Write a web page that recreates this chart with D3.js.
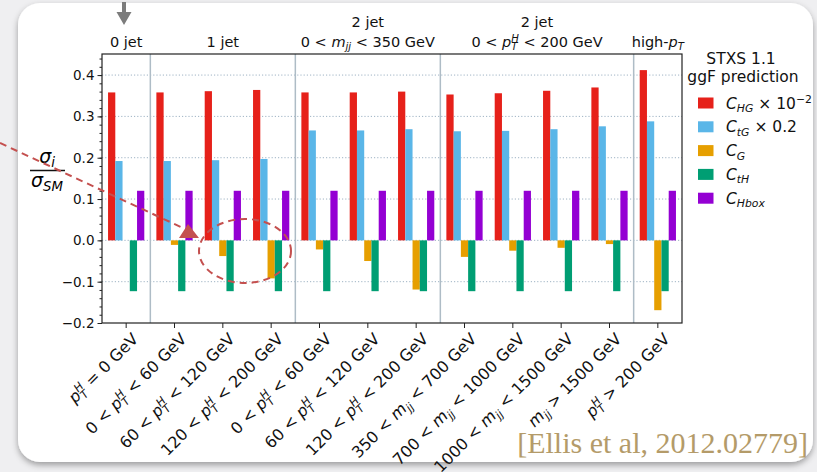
<!DOCTYPE html>
<html>
<head>
<meta charset="utf-8">
<script src="https://cdn.jsdelivr.net/npm/d3@7"></script>
<style>
  html, body { margin: 0; padding: 0; background: #efeff1; }
  svg { display: block; font-family: "DejaVu Sans", sans-serif; }
</style>
</head>
<body>
<div id="chart"></div>
<script>
// STXS 1.1 bins (x tick labels, $..$ = math)
const categories = [
  "$p_T^H$ = 0 GeV",
  "0 < $p_T^H$ < 60 GeV",
  "60 < $p_T^H$ < 120 GeV",
  "120 < $p_T^H$ < 200 GeV",
  "0 < $p_T^H$ < 60 GeV",
  "60 < $p_T^H$ < 120 GeV",
  "120 < $p_T^H$ < 200 GeV",
  "350 < $m_{jj}$ < 700 GeV",
  "700 < $m_{jj}$ < 1000 GeV",
  "1000 < $m_{jj}$ < 1500 GeV",
  "$m_{jj}$ > 1500 GeV",
  "$p_T^H$ > 200 GeV"
];

// jet-multiplicity groups on top
const groupNames = [["0 jet"], ["1 jet"], ["2 jet", "0 < $m_{jj}$ < 350 GeV"], ["2 jet", "0 < $p_T^H$ < 200 GeV"], ["high-$p_T$"]];
const groupFirst = [0, 1, 4, 7, 11];
const groupLast = [0, 3, 6, 10, 11];

const seriesNames = ["$C_{HG}$ × 10$^{−2}$", "$C_{tG}$ × 0.2", "$C_G$", "$C_{tH}$", "$C_{Hbox}$"];
const seriesColors = ["#e6211a", "#5ab6e8", "#e69f00", "#009e73", "#9400d3"];

const cHG   = [0.358, 0.358, 0.361, 0.364, 0.358, 0.358, 0.360, 0.353, 0.356, 0.362, 0.370, 0.412];
const cTG   = [0.192, 0.192, 0.194, 0.197, 0.266, 0.266, 0.269, 0.264, 0.265, 0.269, 0.276, 0.288];
const cG    = [0.000, -0.011, -0.038, -0.092, -0.022, -0.050, -0.119, -0.040, -0.025, -0.018, -0.009, -0.169];
const cTH   = [-0.123, -0.123, -0.123, -0.123, -0.123, -0.123, -0.123, -0.123, -0.123, -0.123, -0.123, -0.123];
const cHbox = [0.120, 0.120, 0.120, 0.120, 0.120, 0.120, 0.120, 0.120, 0.120, 0.120, 0.120, 0.120];
const seriesValues = [cHG, cTG, cG, cTH, cHbox];

const yMajor = [-0.2, -0.1, 0.0, 0.1, 0.2, 0.3, 0.4];

const W = 817, H = 472;
const plot = { left: 102, right: 682, top: 54, bottom: 323 };

const svg = d3.select('#chart').append('svg')
  .attr('width', W).attr('height', H);

// card with shadow
const defs = svg.append('defs');
defs.append('filter').attr('id', 'shadow')
  .attr('x', '-10%').attr('y', '-10%').attr('width', '120%').attr('height', '125%')
  .append('feDropShadow')
  .attr('dx', 0).attr('dy', 3).attr('stdDeviation', 3)
  .attr('flood-color', '#000').attr('flood-opacity', 0.35);

svg.append('rect')
  .attr('x', 18).attr('y', 3).attr('width', 795).attr('height', 459)
  .attr('rx', 22).attr('fill', '#fff')
  .attr('filter', 'url(#shadow)');

// draws "$..$" math with italic letters, sub- and superscripts as tspans
function rich(textSel, str, fs) {
  let cur = 0, pendingDx = 0;
  const put = (txt, o) => {
    const t = textSel.append('tspan').text(txt);
    const target = o.shift || 0;
    if (target !== cur) { t.attr('dy', target - cur); cur = target; }
    const dx = (o.dx || 0) + pendingDx; pendingDx = 0;
    if (dx) t.attr('dx', dx);
    if (o.italic) t.attr('font-style', 'italic');
    if (o.small) t.attr('font-size', fs * 0.7);
    return t;
  };
  str.split('$').forEach((seg, k) => {
    if (!seg) return;
    if (k % 2 === 0) { put(seg, {}); return; }
    let i = 0, lastSub = null;
    while (i < seg.length) {
      const c = seg[i];
      if (c === '_' || c === '^') {
        let g;
        if (seg[i + 1] === '{') { const j = seg.indexOf('}', i); g = seg.slice(i + 2, j); i = j + 1; }
        else { g = seg[i + 1]; i += 2; }
        const isSub = c === '_';
        let dx = 0;
        if (!isSub && lastSub) dx = -lastSub.node().getComputedTextLength();
        const t = put(g, { shift: isSub ? fs * 0.22 : -fs * 0.36, italic: /[A-Za-z]/.test(g), small: true, dx });
        if (!isSub && lastSub) {
          const diff = lastSub.node().getComputedTextLength() - t.node().getComputedTextLength();
          if (diff > 0) pendingDx = diff;
        }
        lastSub = isSub ? t : null;
      } else {
        let j = i;
        while (j < seg.length && seg[j] !== '_' && seg[j] !== '^') j++;
        seg.slice(i, j).match(/[A-Za-zσ]+|[^A-Za-zσ]+/g)
          .forEach(r => put(r, { shift: 0, italic: /[A-Za-zσ]/.test(r) }));
        i = j; lastSub = null;
      }
    }
  });
}

// scales
const x = d3.scaleBand().domain(d3.range(categories.length))
  .range([plot.left, plot.right]).padding(0);
const bw = x.bandwidth();
const xSub = d3.scaleBand().domain(d3.range(seriesNames.length))
  .range([bw * 0.125, bw * 0.875]).padding(0);
const y = d3.scaleLinear().domain([-0.2, 0.451]).range([plot.bottom, plot.top]);

// grid
svg.append('g').selectAll('line')
  .data(yMajor.slice(1))
  .join('line')
  .attr('x1', plot.left).attr('x2', plot.right)
  .attr('y1', d => y(d)).attr('y2', d => y(d))
  .attr('stroke', '#9fb3c4').attr('stroke-width', 1)
  .attr('stroke-dasharray', '1.2,2');

// group separators
svg.append('g').selectAll('line')
  .data(groupFirst.slice(1))
  .join('line')
  .attr('x1', d => x(d)).attr('x2', d => x(d))
  .attr('y1', plot.top).attr('y2', plot.bottom)
  .attr('stroke', '#aebcc6').attr('stroke-width', 1.5);

// bars
seriesValues.forEach((vals, k) => {
  svg.append('g').selectAll('rect')
    .data(vals)
    .join('rect')
    .attr('x', (d, i) => x(i) + xSub(k))
    .attr('width', xSub.bandwidth())
    .attr('y', d => y(Math.max(0, d)))
    .attr('height', d => Math.abs(y(d) - y(0)))
    .attr('fill', seriesColors[k]);
});

// y axis (major + minor ticks)
const yAxis = svg.append('g').attr('transform', `translate(${plot.left},0)`)
  .call(d3.axisLeft(y).tickValues(yMajor).tickFormat(d3.format('.1f')).tickSize(4.5).tickPadding(3));
yAxis.select('.domain').remove();
yAxis.selectAll('text').attr('font-size', 13.5).attr('fill', '#111').attr('font-family', '"DejaVu Sans", sans-serif');
yAxis.selectAll('line').attr('stroke', '#222');
const yMinor = svg.append('g').attr('transform', `translate(${plot.left},0)`)
  .call(d3.axisLeft(y).tickValues(d3.range(-0.2, 0.451, 0.02)).tickFormat('').tickSize(2.5));
yMinor.select('.domain').remove();
yMinor.selectAll('line').attr('stroke', '#222');

// x axis
const xAxis = svg.append('g').attr('transform', `translate(0,${plot.bottom})`)
  .call(d3.axisBottom(x).tickFormat('').tickSize(5));
xAxis.select('.domain').remove();
xAxis.selectAll('line').attr('stroke', '#222');

svg.append('g').selectAll('text')
  .data(categories)
  .join('text')
  .attr('transform', (d, i) => `translate(${x(i) + bw / 2 + 13},${plot.bottom + 17}) rotate(-45)`)
  .attr('text-anchor', 'end')
  .attr('font-size', 16).attr('fill', '#111')
  .each(function (d) { rich(d3.select(this), d, 16); });

// frame
svg.append('rect')
  .attr('x', plot.left).attr('y', plot.top)
  .attr('width', plot.right - plot.left).attr('height', plot.bottom - plot.top)
  .attr('fill', 'none').attr('stroke', '#222').attr('stroke-width', 1.2);

// group labels
groupNames.forEach((lines, g) => {
  const cx = (x(groupFirst[g]) + x(groupLast[g]) + bw) / 2;
  lines.forEach((ln, j) => {
    const t = svg.append('text')
      .attr('x', cx).attr('y', 47 - (lines.length - 1 - j) * 20)
      .attr('text-anchor', 'middle').attr('font-size', 14.5).attr('fill', '#111');
    rich(t, ln, 14.5);
  });
});

// arrow above "0 jet"
svg.append('path')
  .attr('d', 'M122,2 h4 v10 h5.5 l-7.5,13 l-7.5,-13 h5.5 z')
  .attr('fill', '#7c7c7c');

// y label: sigma_i / sigma_SM
const yl = svg.append('g');
rich(yl.append('text').attr('x', 47).attr('y', 163).attr('text-anchor', 'middle').attr('font-size', 19), '$σ_i$', 19);
yl.append('line').attr('x1', 30).attr('x2', 65).attr('y1', 170.5).attr('y2', 170.5)
  .attr('stroke', '#111').attr('stroke-width', 1.3);
rich(yl.append('text').attr('x', 47).attr('y', 186.5).attr('text-anchor', 'middle').attr('font-size', 19), '$σ_{SM}$', 19);

// legend
svg.append('text').attr('x', 741).attr('y', 64).attr('text-anchor', 'middle')
  .attr('font-size', 15.5).attr('fill', '#111').text('STXS 1.1');
svg.append('text').attr('x', 743).attr('y', 81.5).attr('text-anchor', 'middle')
  .attr('font-size', 15.5).attr('fill', '#111').text('ggF prediction');
const leg = svg.append('g').selectAll('g')
  .data(seriesNames)
  .join('g')
  .attr('transform', (d, i) => `translate(698,${103 + i * 23.8})`);
leg.append('rect').attr('x', 0).attr('y', -5.5).attr('width', 15.5).attr('height', 11)
  .attr('fill', (d, i) => seriesColors[i]);
leg.append('text').attr('x', 28).attr('y', 5.5).attr('font-size', 15.5).attr('fill', '#111')
  .each(function (d) { rich(d3.select(this), d, 15.5); });

// hand-drawn annotation
const ann = svg.append('g').attr('stroke', '#c4504f').attr('stroke-width', 2)
  .attr('fill', 'none').attr('stroke-dasharray', '7,5');
ann.append('line').attr('x1', 0).attr('y1', 143).attr('x2', 183).attr('y2', 228);
ann.append('ellipse').attr('cx', 245).attr('cy', 251).attr('rx', 46).attr('ry', 32);
svg.append('path').attr('d', 'M188,224 L179,238 L199,238 Z').attr('fill', '#c4504f');

// citation
svg.append('text')
  .attr('x', 808).attr('y', 453).attr('text-anchor', 'end')
  .attr('font-family', '"Liberation Serif", serif').attr('font-size', 30)
  .attr('fill', '#b49b69')
  .text('[Ellis et al, 2012.02779]');
</script>
</body>
</html>
